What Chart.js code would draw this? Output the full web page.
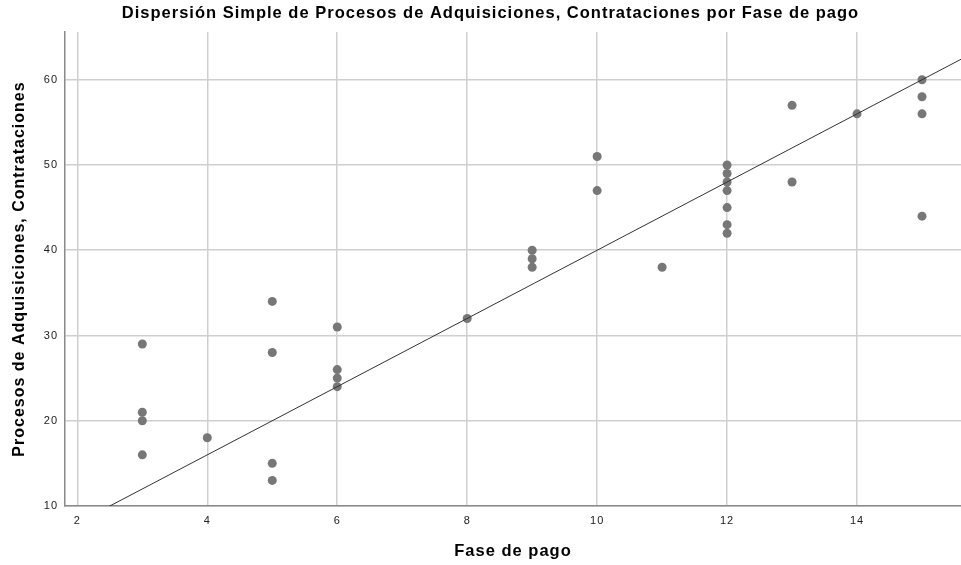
<!DOCTYPE html>
<html>
<head>
<meta charset="utf-8">
<script src="https://cdn.jsdelivr.net/npm/chart.js@4"></script>
<style>
  html, body { margin: 0; padding: 0; background: #fff; }
  #wrap { width: 961px; height: 565px; }
</style>
</head>
<body>
<div id="wrap"><canvas id="scatter" width="961" height="565"></canvas></div>
<script>
// Fase de pago (x) and Procesos de Adquisiciones, Contrataciones (y)
const faseDePago = [3, 3, 3, 3, 4, 5, 5, 5, 5, 6, 6, 6, 6, 8, 9, 9, 9, 10, 10, 11,
  12, 12, 12, 12, 12, 12, 12, 13, 13, 14, 15, 15, 15, 15];
const procesos = [29, 21, 20, 16, 18, 34, 28, 15, 13, 31, 26, 25, 24, 32, 40, 39, 38, 51, 47, 38,
  50, 49, 48, 47, 45, 43, 42, 57, 48, 56, 60, 58, 56, 44];

const xTicks = [2, 4, 6, 8, 10, 12, 14];
const yTicks = [10, 20, 30, 40, 50, 60];

// fit line
const fitSlope = 4.0;
const fitIntercept = 0.0;

const xMin = 1.81, xMax = 15.6;
const yMin = 10, yMax = 65.6;

const points = faseDePago.map((x, i) => ({ x: x, y: procesos[i] }));
const fitLine = [xMin, xMax].map(x => ({ x: x, y: fitIntercept + fitSlope * x }));

const FONT = "'Liberation Sans', Arial, sans-serif";

// the original text is set a little wider than Arial
const spacing = {
  id: 'spacing',
  beforeDraw(chart) { chart.ctx.letterSpacing = '1px'; }
};

new Chart(document.getElementById('scatter'), {
  type: 'scatter',
  data: {
    datasets: [{
      label: 'Procesos',
      data: points,
      backgroundColor: '#777777',
      borderWidth: 0,
      pointRadius: 4.5,
      pointHoverRadius: 4.5,
      order: 2
    }, {
      type: 'line',
      label: 'Ajuste',
      data: fitLine,
      borderColor: '#333333',
      borderWidth: 1,
      pointRadius: 0,
      fill: false,
      order: 1
    }]
  },
  plugins: [spacing],
  options: {
    responsive: false,
    animation: false,
    layout: { autoPadding: false, padding: { left: 20, right: 0, top: 0, bottom: 0 } },
    plugins: {
      legend: { display: false },
      tooltip: { enabled: false },
      title: {
        display: true,
        text: 'Dispersión Simple de Procesos de Adquisiciones, Contrataciones por Fase de pago',
        color: '#000',
        font: { family: FONT, size: 16.5, weight: 'bold', lineHeight: 1.2 },
        padding: { top: 4, bottom: 8.2 }
      }
    },
    scales: {
      x: {
        type: 'linear',
        min: xMin,
        max: xMax,
        afterFit: s => { s.height = 59; s.paddingLeft = 0; s.paddingRight = 0; },
        afterBuildTicks: s => { s.ticks = xTicks.map(v => ({ value: v })); },
        ticks: { color: '#222', font: { family: FONT, size: 11 }, padding: 8, includeBounds: false },
        grid: { color: '#cfcfcf', lineWidth: 1.5, drawTicks: false },
        border: { color: '#8a8a8a', width: 1.5 },
        title: {
          display: true,
          text: 'Fase de pago',
          color: '#000',
          font: { family: FONT, size: 16.5, weight: 'bold' },
          padding: { bottom: 4 }
        }
      },
      y: {
        type: 'linear',
        min: yMin,
        max: yMax,
        afterFit: s => { s.width = 45; },
        afterBuildTicks: s => { s.ticks = yTicks.map(v => ({ value: v })); },
        ticks: { color: '#222', font: { family: FONT, size: 11 }, padding: 7, includeBounds: false },
        grid: { color: '#cfcfcf', lineWidth: 1.5, drawTicks: false },
        border: { color: '#8a8a8a', width: 1.5 },
        title: {
          display: true,
          text: 'Procesos de Adquisiciones, Contrataciones',
          color: '#000',
          font: { family: FONT, size: 16, weight: 'bold' },
          padding: { top: -10 }
        }
      }
    }
  }
});
</script>
</body>
</html>
